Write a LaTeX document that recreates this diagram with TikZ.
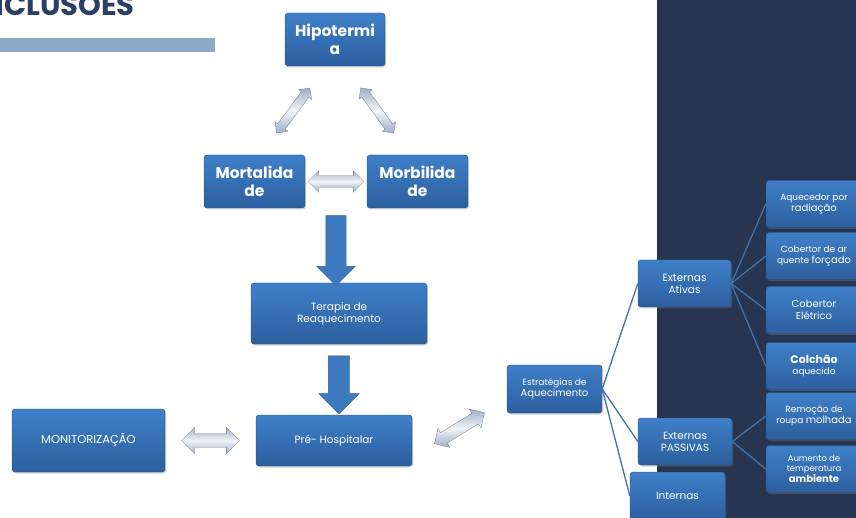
\documentclass[tikz,border=0pt]{standalone}
\usepackage{fontspec}
\setmainfont{Poppins}
\usetikzlibrary{shapes.arrows,shadows,calc}
\definecolor{hpblue}{HTML}{3F7FC8}
\definecolor{hpbluedark}{HTML}{2C5F9E}
\definecolor{hpnavy}{HTML}{283550}
\definecolor{hpbar}{HTML}{8BA9C8}
\definecolor{hpline}{HTML}{4272A8}
\definecolor{hpgrey}{HTML}{9EB0C8}
\definecolor{hptitle}{HTML}{2C3E64}
\newcommand{\hpsz}[1]{\fontsize{#1}{#1}\selectfont}
\begin{document}
\begin{tikzpicture}[x=1pt, y=-1pt]
\tikzset{hpbox/.style={shape=rectangle, rounded corners=3pt, top color=hpblue, bottom color=hpbluedark, draw=hpbluedark!85!black, line width=0.4pt, text=white, align=center, inner sep=1pt, font=\fontsize{9}{11}\selectfont, drop shadow={opacity=0.35, shadow xshift=1pt, shadow yshift=-1.5pt}}}
\tikzset{hpbig/.style={hpbox, font=\fontsize{15.5}{18}\selectfont\bfseries}}
\tikzset{hpleaf/.style={hpbox, minimum width=96pt, minimum height=47pt}}
\tikzset{hpedge/.style={draw=hpline, line width=1.3pt}}
\tikzset{hpdarrow/.style={shape=double arrow, inner xsep=0pt, top color=hpgrey, bottom color=hpgrey, middle color=white!85!hpgrey, draw=hpgrey!70!black, line width=0.3pt}}
\tikzset{hpdown/.style={shape=single arrow, inner xsep=0pt, single arrow tip angle=90, fill=hpblue!95!black, draw=hpbluedark, line width=0.4pt, rotate=-90}}
\useasboundingbox (0,0) rectangle (856,518);
\clip (0,0) rectangle (856,518);
% background
\fill[hpnavy] (657,0) rectangle (856,518);
\fill[hpbar] (0,38) rectangle (215,52);
\node (ttl) [anchor=base east, font=\fontsize{29}{31}\selectfont\bfseries, text=hptitle, inner sep=0pt] at (135,15.5) {CONCLUSÕES};
% left part
\node (hip)  [hpbig, minimum width=100pt, minimum height=53pt] at (335,39.5)    {Hipotermi\\a};
\node (mort) [hpbig, minimum width=101pt, minimum height=53pt] at (254.5,181.5) {Mortalida\\de};
\node (morb) [hpbig, minimum width=101pt, minimum height=53pt] at (417.5,181.5) {Morbilida\\de};
\node (ter)  [hpbox, minimum width=176pt, minimum height=61pt, font=\fontsize{10.5}{12}\selectfont] at (339,313.5) {Terapia de\\Reaquecimento};
\node (pre)  [hpbox, minimum width=156pt, minimum height=51pt, font=\fontsize{10.5}{12}\selectfont] at (334,440.5) {Pré- Hospitalar};
\node (mon)  [hpbox, minimum width=153pt, minimum height=63pt, font=\fontsize{11.5}{13}\selectfont] at (88.5,440.5) {MONITORIZAÇÃO};
% strategies
\node (estr) [hpbox, minimum width=95pt, minimum height=48pt] at (554.5,389) {Estratégias de\\{\hpsz{10}Aquecimento}};
\node (ativ) [hpbox, minimum width=93pt, minimum height=47pt, font=\fontsize{10.5}{12}\selectfont] at (684.5,283.5) {Externas\\Ativas};
\node (pass) [hpbox, minimum width=94pt, minimum height=47pt, font=\fontsize{10.5}{12}\selectfont] at (685,441.5) {Externas\\PASSIVAS};
\node (intn) [hpbox, minimum width=95pt, minimum height=48pt, font=\fontsize{10.5}{12}\selectfont] at (677.5,496) {Internas};
% leaves
\node (aq)  [hpleaf] at (814,204) {Aquecedor por\\{\hpsz{10}radiação}};
\node (cob) [hpleaf] at (814,256) {Cobertor de ar\\quente {\hpsz{10}forçado}};
\node (ele) [hpleaf, font=\fontsize{10}{11.5}\selectfont] at (814,310) {Cobertor\\Elétrico};
\node (col) [hpleaf] at (814,366) {{\hpsz{11}\bfseries Colchão}\\aquecido};
\node (rem) [hpleaf] at (814,416) {Remoção de\\roupa {\hpsz{10}molhada}};
\node (aum) [hpleaf, font=\fontsize{8.5}{10}\selectfont] at (814,469) {Aumento de\\temperatura\\{\hpsz{10}\bfseries ambiente}};
% block arrows
\path ([xshift=6pt]mort.north) -- ([xshift=-9pt]hip.south) node[midway, sloped, hpdarrow, minimum height=56pt, inner ysep=4.5pt, double arrow head extend=3.5pt] {};
\path ([xshift=10pt]hip.south) -- ([xshift=-8pt]morb.north) node[midway, sloped, hpdarrow, minimum height=56pt, inner ysep=4.5pt, double arrow head extend=3.5pt] {};
\path (mort) -- (morb) node[midway, hpdarrow, minimum height=56pt, inner ysep=5.5pt, double arrow head extend=5pt] {};
\path (mon) -- (pre) node[midway, hpdarrow, minimum height=58pt, inner ysep=6.5pt, double arrow head extend=6.5pt] {};
\path ([yshift=-17pt]pre.east) -- ([yshift=-10pt]estr.west) node[midway, sloped, hpdarrow, minimum height=59pt, inner ysep=6pt, double arrow head extend=5pt] {};
\coordinate (mm) at ($(mort.south)!0.5!(morb.south)$);
\path (mm) -- (mm |- ter.north) node[midway, hpdown, minimum height=70pt, inner ysep=10pt, single arrow head extend=9pt] {};
\path (ter.south) -- (ter.south |- pre.north) node[midway, hpdown, minimum height=58pt, inner ysep=10.5pt, single arrow head extend=9.5pt] {};
% tree
\draw[hpedge] (estr.east) -- (ativ.west);
\draw[hpedge] (estr.east) -- (pass.west);
\draw[hpedge] (estr.east) -- (intn.west);
\draw[hpedge] (ativ.east) -- (aq.west);
\draw[hpedge] (ativ.east) -- (cob.west);
\draw[hpedge] (ativ.east) -- (ele.west);
\draw[hpedge] (ativ.east) -- (col.west);
\draw[hpedge] (pass.east) -- (rem.west);
\draw[hpedge] (pass.east) -- (aum.west);
\end{tikzpicture}
\end{document}
